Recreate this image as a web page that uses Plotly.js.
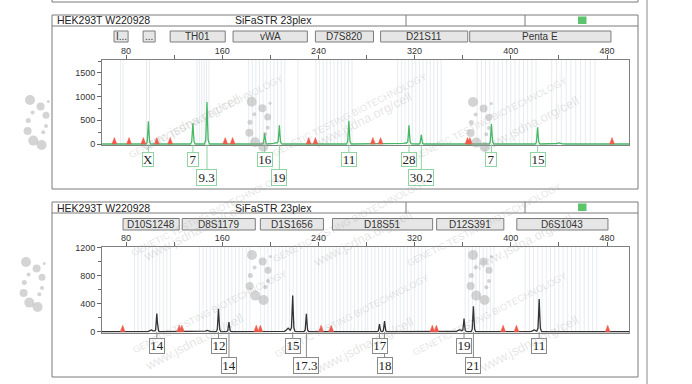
<!DOCTYPE html>
<html><head><meta charset="utf-8">
<script src="https://cdn.plot.ly/plotly-3.0.1.min.js"></script>
<style>html,body{margin:0;padding:0;background:#fff;}#chart{width:692px;height:384px;}</style>
</head><body><div id="chart"></div>
<script>
// ---------------- data ----------------
const sampleName = 'HEK293T W220928';
const kitName = 'SiFaSTR 23plex';
const xRange = [60, 498.3];          // fragment size (bp)
const p1YRange = [-21, 1772];        // RFU, green dye panel
const p2YRange = [-11, 1214];        // RFU, black dye panel

// Panel 1 (green trace)
const p1Labels  = ['X','7','9.3','16','19','11','28','30.2','7','15'];
const p1Sizes   = [98.6,135.6,147.3,195.3,207.5,265.3,315.3,325.6,383.9,422.3];
const p1Heights = [477,443,886,232,392,492,392,196,428,350];
const p1Rows    = [1,1,2,1,2,1,1,2,1,1];
const p1MinorSizes   = [204.5, 312.5, 440];
const p1MinorHeights = [30, 25, 22];
const p1Triangles = [70.3,82.5,94.4,105.6,116.7,162.5,168.6,231.9,237.5,285.3,291.7,364,366,484.2];
const p1Loci       = ['I...','...','TH01','vWA','D7S820','D21S11','Penta E'];
const p1LocusStart = [70,94.2,116.7,169,237.5,291.7,365.8];
const p1LocusEnd   = [81.7,104.2,162.5,230.8,285.8,364.2,483.3];

// Panel 2 (black trace)
const p2Labels  = ['14','12','14','15','17.3','17','18','19','21','11'];
const p2Sizes   = [105.6,156.9,165.6,218.6,230,290.8,295,361.1,368.9,423.6];
const p2Heights = [257,329,139,514,257,110,153,186,363,467];
const p2Rows    = [1,1,2,1,2,1,2,1,2,1];
const p2MinorSizes   = [101,147.5,214.8,357.5,419.5];
const p2MinorHeights = [25,20,52,30,25];
const p2Triangles = [77.2,124.2,126.4,188.3,191.7,242.2,250.6,334.7,338.1,393.6,404.7,480.6];
const p2Loci       = ['D10S1248','D8S1179','D1S1656','D18S51','D12S391','D6S1043'];
const p2LocusStart = [77.5,126.7,191.7,251.7,338.3,405];
const p2LocusEnd   = [124.2,187.5,244.2,335,394.2,480.8];

// allele bin ranges (start, end, step) – background guide lines
const p1Bins = [[75.5,77.5,2],[97,99.5,2.5],[139,150,2],[182,214,3],[223,223,1],[238,269,3],[306,343,3],[372,423,3.5],[434,473,4]];
const p2Bins = [[87,118,3],[141,183,3],[192,280,3],[281,331,3],[362,387,3],[412,472,3.5]];

// ---------------- helpers ----------------
const W = 692, H = 384;
const px = v => v / W, py = v => 1 - v / H;
const FONT = 'Liberation Sans, Arial, sans-serif';
const SERIF = 'Liberation Serif, Times New Roman, serif';

const peakShape = [[0,1],[0.5,0.5],[1,0.1],[2,0]];
function shapeVal(d){ d = Math.abs(d); for(let i=1;i<peakShape.length;i++){ const [a,fa]=peakShape[i-1],[b,fb]=peakShape[i]; if(d<=b) return fa+(fb-fa)*(d-a)/(b-a);} return 0; }
function buildTrace(sizes, heights, ms, mh){
  const peaks = sizes.map((s,i)=>({s,h:heights[i],w:1})).concat(ms.map((s,i)=>({s,h:mh[i],w:3})));
  let xs = [xRange[0], xRange[1]];
  peaks.forEach(p => peakShape.forEach(([d]) => { xs.push(p.s - d*p.w); xs.push(p.s + d*p.w); }));
  xs = Array.from(new Set(xs)).sort((a,b)=>a-b);
  const ys = xs.map(x => peaks.reduce((acc,p)=>acc + p.h*shapeVal((x-p.s)/p.w), 0));
  return {x:xs, y:ys};
}
function binTrace(bins, yr, xa, ya){
  const x=[], y=[];
  bins.forEach(([a,b,st]) => { for(let v=a; v<=b+1e-6; v+=st){ x.push(v,v,null); y.push(yr[0],yr[1],null);} });
  return {type:'scatter', mode:'lines', x, y, xaxis:xa, yaxis:ya, line:{color:'#e7ebf0', width:1}, hoverinfo:'skip'};
}
function triTrace(pos, yr, pxPerUnit, xa, ya){
  const x=[], y=[]; const hh = 6.5/pxPerUnit; const hw = 2.0;
  pos.forEach(p => { x.push(p-hw, p, p+hw, p-hw, null); y.push(0, hh, 0, 0, null); });
  return {type:'scatter', mode:'lines', x, y, xaxis:xa, yaxis:ya, fill:'toself', fillcolor:'#f2594b', line:{color:'#f2594b', width:0.5}, hoverinfo:'skip'};
}

// ---------------- traces ----------------
const t1 = buildTrace(p1Sizes, p1Heights, p1MinorSizes, p1MinorHeights);
const t2 = buildTrace(p2Sizes, p2Heights, p2MinorSizes, p2MinorHeights);
const traces = [
  binTrace(p1Bins, p1YRange, 'x', 'y'),
  binTrace(p2Bins, p2YRange, 'x2', 'y2'),
  {type:'scatter', mode:'lines', x:t1.x, y:t1.y, xaxis:'x', yaxis:'y', line:{color:'#46b866', width:1.3}, hoverinfo:'skip'},
  {type:'scatter', mode:'lines', x:t2.x, y:t2.y, xaxis:'x2', yaxis:'y2', line:{color:'#333333', width:1.3}, hoverinfo:'skip'},
  triTrace(p1Triangles, p1YRange, 23.7/500, 'x', 'y'),
  triTrace(p2Triangles, p2YRange, 27.7/400, 'x2', 'y2'),
];

// ---------------- decorations ----------------
const shapes = [], annotations = [];
function linePx(x0,y0,x1,y1,color,w){ shapes.push({type:'line',xref:'paper',yref:'paper',x0:px(x0),x1:px(x1),y0:py(y0),y1:py(y1),line:{color:color||'#7a7a7a',width:w||1}}); }

// page lines
linePx(52,2,638,2); linePx(52,0,52,2); linePx(638,0,638,2); linePx(647,0,647,384,'#8a8a8a');

const panels = [{top:15, hdr:26, bottom:189, boxTop:31, boxBot:42, xa:'x'}, {top:202, hdr:213, bottom:377, boxTop:218.5, boxBot:230, xa:'x2'}];
panels.forEach(p => {
  shapes.push({type:'rect',xref:'paper',yref:'paper',x0:px(52),x1:px(638),y0:py(p.bottom),y1:py(p.top),line:{color:'#7a7a7a',width:1}});
  linePx(52,p.hdr,638,p.hdr); linePx(406,p.top,406,p.hdr); linePx(525,p.top,525,p.hdr);
  shapes.push({type:'rect',xref:'paper',yref:'paper',x0:px(578),x1:px(586.5),y0:py(p.hdr-2),y1:py(p.top+1.5),fillcolor:'#5cc46c',line:{width:0}});
  annotations.push({xref:'paper',yref:'paper',x:px(55),y:py((p.top+p.hdr)/2),xanchor:'left',yanchor:'middle',text:sampleName,showarrow:false,font:{family:FONT,size:10.5,color:'#222'}});
  annotations.push({xref:'paper',yref:'paper',x:px(273),y:py((p.top+p.hdr)/2),xanchor:'center',yanchor:'middle',text:kitName,showarrow:false,font:{family:FONT,size:10.5,color:'#222'}});
});

// locus boxes
function loci(names, st, en, p){
  names.forEach((n,i) => {
    shapes.push({type:'rect',xref:p.xa,yref:'paper',x0:st[i],x1:en[i],y0:py(p.boxBot),y1:py(p.boxTop),fillcolor:'#e6e6e6',line:{color:'#7d7d7d',width:1}});
    annotations.push({xref:p.xa,yref:'paper',x:(st[i]+en[i])/2,y:py((p.boxTop+p.boxBot)/2),text:n,showarrow:false,xanchor:'center',yanchor:'middle',font:{family:FONT,size:10,color:'#333'}});
  });
}
loci(p1Loci, p1LocusStart, p1LocusEnd, panels[0]);
loci(p2Loci, p2LocusStart, p2LocusEnd, panels[1]);

// allele label boxes
function alleleLabels(labels, sizes, rows, xa, base, rowY, color){
  labels.forEach((lab,i) => {
    const r = rows[i]-1; const c = rowY[r];
    const w = lab.length===1 ? 12 : 6 + 5*lab.length;
    shapes.push({type:'line',xref:xa,yref:'paper',x0:sizes[i],x1:sizes[i],y0:py(base),y1:py(c.top),line:{color:color,width:1}});
    annotations.push({xref:xa,yref:'paper',x:sizes[i],y:py(c.top + c.h/2),text:lab,showarrow:false,xanchor:'center',yanchor:'middle',
      width:w-2,height:c.h-2,borderpad:0,borderwidth:1,bordercolor:color,bgcolor:'#fff',font:{family:SERIF,size:13,color:'#222'}});
  });
}
alleleLabels(p1Labels, p1Sizes, p1Rows, 'x', 144.5, [{top:152,h:14.5},{top:169.5,h:16.5}], '#8fd4a2');
alleleLabels(p2Labels, p2Sizes, p2Rows, 'x2', 332, [{top:338,h:15.5},{top:357,h:16.5}], '#8a8a8a');

// watermark dot clusters
const dotPattern = [[0,0,5],[10.6,6.6,4],[18.3,1.6,1.5],[2.6,12.6,2],[16,15.3,3.5],[-1.7,20.6,2.5],[16,26,2],[-2.4,31,4],[13.3,32.3,2],[3.3,40.6,5],[11.6,45,5]];
const dotAnchors = [[251.7,101.7],[473,102],[252,255],[473,255],[30,100],[26,262]];
dotAnchors.forEach(([ax,ay]) => dotPattern.forEach(([dx,dy,r]) => {
  shapes.push({type:'circle',xref:'paper',yref:'paper',x0:px(ax+dx-r),x1:px(ax+dx+r),y0:py(ay+dy+r),y1:py(ay+dy-r),fillcolor:'rgba(160,160,160,0.45)',line:{width:0},layer:'above'});
}));

// watermark texts
const wmCenters = [[124,70],[350,68],[572,72],[126,214],[350,220],[566,224],[128,358],[352,362],[572,360]];
wmCenters.forEach(([x,y]) => {
  annotations.push({xref:'paper',yref:'paper',x:px(x),y:py(y),text:'GENETIC TESTING BIOTECHNOLOGY',showarrow:false,textangle:-27,font:{family:FONT,size:9.5,color:'rgba(150,150,150,0.28)'}});
  annotations.push({xref:'paper',yref:'paper',x:px(x+12),y:py(y+18),text:'www.jsdna.org/cell',showarrow:false,textangle:-27,font:{family:FONT,size:13,color:'rgba(150,150,150,0.26)'}});
});

// ---------------- axes ----------------
const xDomain = [102/W, 629/W];
function xAxis(anchor){
  return {domain:xDomain, range:xRange, anchor, side:'top', tickmode:'linear', tick0:80, dtick:80, ticks:'outside', ticklen:4, tickcolor:'#666',
    ticklabelstandoff:-3,
    minor:{tick0:80, dtick:40, ticks:'outside', ticklen:4, tickcolor:'#666'}, showline:true, linecolor:'#808080', linewidth:1, mirror:true,
    showgrid:false, zeroline:false, tickfont:{family:FONT,size:9,color:'#333'}, fixedrange:true};
}
function yAxis(anchor, domain, range, dtick){
  return {domain, range, anchor, tickmode:'linear', tick0:0, dtick, ticks:'outside', ticklen:4, tickcolor:'#666',
    minor:{dtick:dtick/2, ticks:'outside', ticklen:3, tickcolor:'#666'}, showline:true, linecolor:'#808080', linewidth:1, mirror:true,
    showgrid:false, zeroline:false, tickfont:{family:FONT,size:9,color:'#333'}, fixedrange:true};
}
const layout = {
  width:W, height:H, margin:{l:0,r:0,t:0,b:0}, paper_bgcolor:'#fff', plot_bgcolor:'rgba(0,0,0,0)', showlegend:false,
  font:{family:FONT}, hovermode:false,
  xaxis:xAxis('y'), yaxis:yAxis('x',[1-145/H, 1-60/H], p1YRange, 500),
  xaxis2:xAxis('y2'), yaxis2:yAxis('x2',[1-332.5/H, 1-246.7/H], p2YRange, 400),
  shapes, annotations
};
Plotly.newPlot('chart', traces, layout, {staticPlot:true, displayModeBar:false});
</script></body></html>
